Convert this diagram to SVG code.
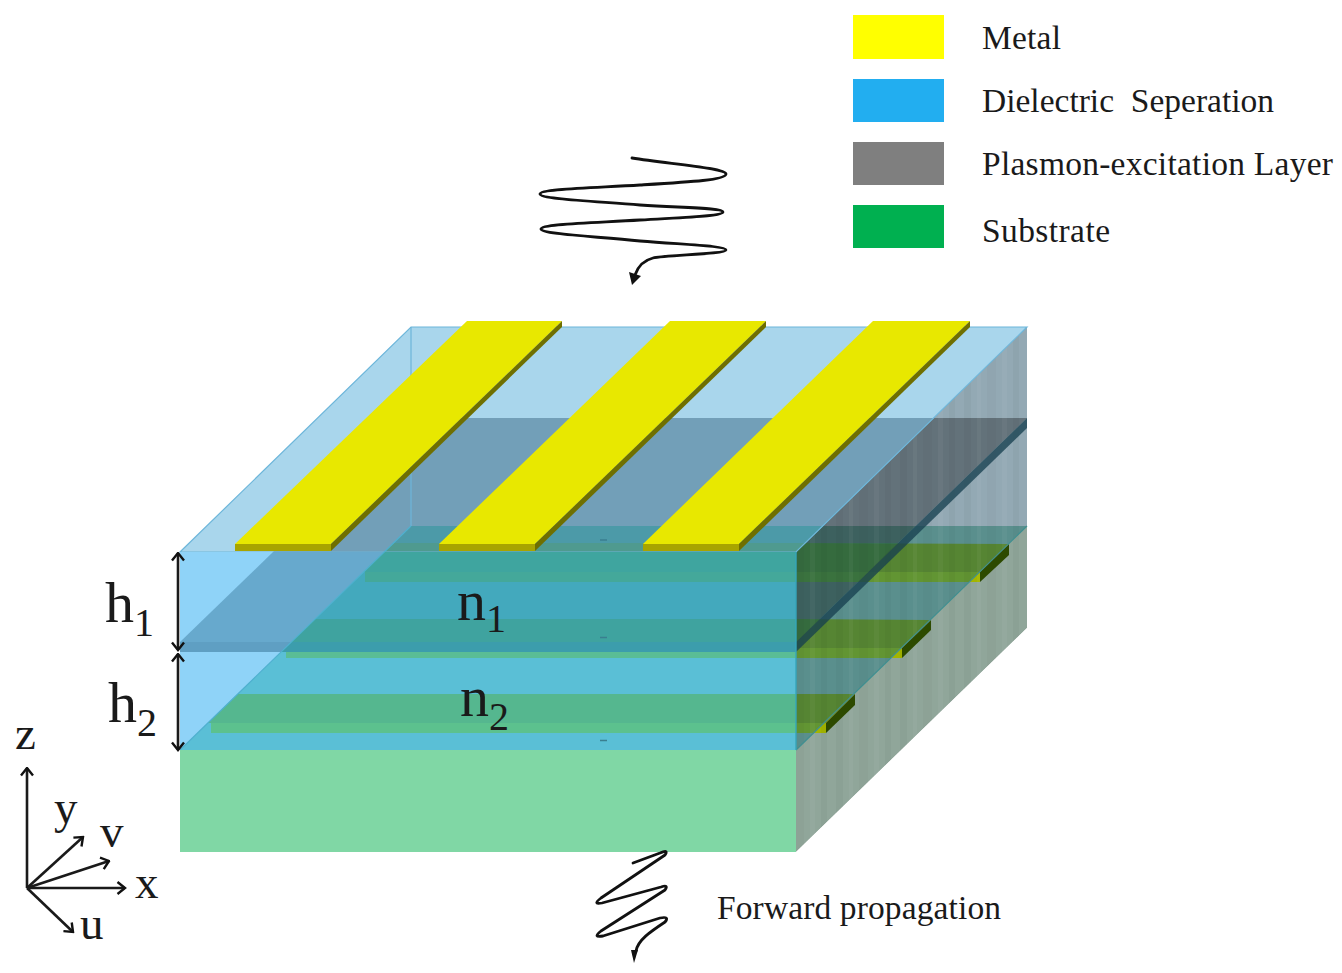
<svg xmlns="http://www.w3.org/2000/svg" width="1342" height="973" viewBox="0 0 1342 973">
<style>
.t{font-family:"Liberation Serif","Times New Roman",serif;fill:#1a1a1a}
.l{font-size:33.5px}
.s{font-size:58px}
.a{font-size:47px}
.w{fill:none;stroke:#111;stroke-width:2.8;stroke-linecap:round;stroke-linejoin:round}
.ax{fill:none;stroke:#1a1a1a;stroke-width:2.6}
.m{fill:#e8e800}.mf{fill:#a8a400}.ms{fill:#6f6f00}
.d{fill:#17404f}
</style>
<defs>
<marker id="o" viewBox="0 0 12 14" refX="10.500" refY="7" markerWidth="12" markerHeight="14" markerUnits="userSpaceOnUse" orient="auto-start-reverse"><path d="M3,1 L10.500,7 L3,13" fill="none" stroke="#111" stroke-width="2.4"/></marker>
<clipPath id="side"><polygon points="796,552 1027,327 1027,628 796,852"/></clipPath>
<clipPath id="fp"><polygon points="384,552 796,552 796,750 180,750"/></clipPath>
<pattern id="st" width="64" height="10" patternUnits="userSpaceOnUse">
<rect x="4" width="7" height="10" fill="#000" opacity=".03"/><rect x="17" width="4" height="10" fill="#fff" opacity=".04"/><rect x="27" width="9" height="10" fill="#000" opacity=".025"/><rect x="42" width="5" height="10" fill="#fff" opacity=".035"/><rect x="53" width="6" height="10" fill="#000" opacity=".03"/>
</pattern>
</defs>
<rect width="1342" height="973" fill="#fff"/>

<g id="side-face" clip-path="url(#side)">
<polygon points="796,552 1027,327 1027,628 796,852" fill="#90a69a"/>
<polygon points="796,552 1027,327 1027,526 796,750" fill="#93a9b4"/>
<polygon points="796,543 1009,544 980,572 796,572" fill="#8a9500"/>
<polygon points="796,572 980,572 980,582 796,582" fill="#a3b500"/>
<polygon points="796,619 931,620 902,648 796,648" fill="#8a9500"/>
<polygon points="796,648 902,648 902,658 796,658" fill="#a3b500"/>
<polygon points="796,694 855,694 826,723 796,723" fill="#8a9500"/>
<polygon points="796,723 826,723 826,733 796,733" fill="#a3b500"/>
<polygon points="411,526 1027,526 796,750 180,750" fill="#217565" opacity=".5"/>
<polygon points="411,418 1027,418 796,642 180,642" fill="#000" opacity=".32"/>
<polygon points="796,543 898,543 858,582 796,582" fill="#2a8f7a" opacity=".32"/>
<polygon points="796,619 820,619 796,642" fill="#2a8f7a" opacity=".32"/>
<rect x="796" y="327" width="231" height="525" fill="url(#st)"/>
<polygon points="796,642 1027,418 1027,428 796,652" class="d" opacity=".78"/>
<polygon points="980,572 1009,544 1009,555 980,582" fill="#2d4a00"/>
<polygon points="902,648 931,620 931,630 902,658" fill="#2d4a00"/>
<polygon points="826,723 855,694 855,705 826,733" fill="#2d4a00"/>
</g>
<line x1="796" y1="750" x2="1027" y2="526" stroke="#3f8f90" stroke-width="1.2"/>

<g id="top-face">
<polygon points="180,552 796,552 1027,327 411,327" fill="#a9d6ec"/>
<polygon points="273,552 796,552 933.6,418 411,418" fill="#729fb8"/>
<polygon points="411,526 823,526 796,552 384,552" fill="#4c9aa8"/>
<polygon points="393,543 805,543 796,552 384,552" fill="#4f9a8f"/>
<line x1="411" y1="327" x2="411" y2="526" stroke="#6db6da" stroke-width="1.2"/>
<polygon points="180,552 796,552 1027,327 411,327" fill="none" stroke="#6db6da" stroke-width="1.2"/>
</g>

<g id="front-face">
<rect x="180" y="552" width="616" height="198" fill="#8fd3f8"/>
<polygon points="273,552 384,552 291,642 180,642" fill="#67a9cd"/>
<polygon points="180,642 291,642 281,652 180,652" fill="#5f9fc3"/>
<g clip-path="url(#fp)">
<rect x="180" y="552" width="616" height="90" fill="#43a9bd"/>
<rect x="180" y="552" width="616" height="20" fill="#3fa59f"/>
<rect x="365" y="572" width="431" height="10" fill="#44a89a"/>
<rect x="180" y="619" width="616" height="23" fill="#3fa39f"/>
<rect x="180" y="642" width="616" height="10" fill="#3c9dac"/>
<rect x="180" y="652" width="616" height="98" fill="#5abfd6"/>
<rect x="286" y="652" width="510" height="6" fill="#5abd95"/>
<rect x="180" y="694" width="616" height="29" fill="#55b78f"/>
<rect x="211" y="723" width="585" height="10" fill="#5cc18e"/>
</g>
<line x1="180" y1="750" x2="411" y2="526" stroke="#4fb0cf" stroke-width="1.2"/>
<line x1="796" y1="552" x2="796" y2="750" stroke="#35a5bb" stroke-width="1.4"/>
<path d="M600,540h7M600,637.500h7M600,740.500h7" stroke="#3a7f90" stroke-width="1.5"/>
</g>

<rect id="substrate" x="180" y="750" width="616" height="102" fill="#80d7a5"/>

<g id="metal-1"><polygon class="m" points="235,544 331,544 562,321 467,321"/><rect class="mf" x="235" y="544" width="96" height="7"/><polygon class="ms" points="331,544 562,321 562,327 331,551"/></g>
<g id="metal-2"><polygon class="m" points="439,544 535,544 766,321 670,321"/><rect class="mf" x="439" y="544" width="96" height="7"/><polygon class="ms" points="535,544 766,321 766,327 535,551"/></g>
<g id="metal-3"><polygon class="m" points="643,544 739,544 970,321 873,321"/><rect class="mf" x="643" y="544" width="96" height="7"/><polygon class="ms" points="739,544 970,321 970,327 739,551"/></g>

<g id="legend">
<rect x="853" y="15" width="91" height="44" fill="#ffff00"/>
<rect x="853" y="79" width="91" height="43" fill="#22aef0"/>
<rect x="853" y="142" width="91" height="43" fill="#7f7f7f"/>
<rect x="853" y="205" width="91" height="43" fill="#00b050"/>
<text class="t l" x="982" y="49" textLength="79" lengthAdjust="spacing">Metal</text>
<text class="t l" x="982" y="112" textLength="292" lengthAdjust="spacing" xml:space="preserve">Dielectric  Seperation</text>
<text class="t l" x="982" y="175" textLength="351" lengthAdjust="spacing">Plasmon-excitation Layer</text>
<text class="t l" x="982" y="242" textLength="128" lengthAdjust="spacing">Substrate</text>
</g>

<g id="labels">
<text class="t s" x="105" y="622">h<tspan font-size="40" dy="14">1</tspan></text>
<text class="t s" x="108" y="722">h<tspan font-size="40" dy="14">2</tspan></text>
<text class="t s" x="457" y="620">n<tspan font-size="40" dy="12">1</tspan></text>
<text class="t s" x="460" y="716">n<tspan font-size="40" dy="14">2</tspan></text>
<text class="t l" x="717" y="919" textLength="284" lengthAdjust="spacing">Forward propagation</text>
<text class="t a" x="15" y="749">z</text>
<text class="t a" x="54" y="823">y</text>
<text class="t a" x="100" y="847">v</text>
<text class="t a" x="135" y="898">x</text>
<text class="t a" x="80" y="939">u</text>
</g>

<g id="connectors">
<line class="ax" x1="178" y1="553" x2="178" y2="650" marker-start="url(#o)" marker-end="url(#o)"/>
<line class="ax" x1="178" y1="654" x2="178" y2="750" marker-start="url(#o)" marker-end="url(#o)"/>
<line class="ax" x1="27" y1="888" x2="27" y2="768" marker-end="url(#o)"/>
<line class="ax" x1="27" y1="888" x2="83" y2="837" marker-end="url(#o)"/>
<line class="ax" x1="27" y1="888" x2="109" y2="861" marker-end="url(#o)"/>
<line class="ax" x1="27" y1="888" x2="125" y2="888" marker-end="url(#o)"/>
<line class="ax" x1="27" y1="888" x2="73" y2="932" marker-end="url(#o)"/>
<path class="w" d="M632,158 C670,164 726,168 726,174 C726,180 690,182 640,185 C590,188 540,189 540,194 C540,199 590,201 640,205 C690,208 723,208 723,212 C723,216 690,217 640,220 C590,223 541,224 541,229 C541,234 590,236 640,241 C690,245 726,246 726,250 C726,254 665,255 653,258 C645,260 638,266 635,275"/>
<polygon points="632,285 629,272 641,276" fill="#111"/>
<path class="w" d="M633,863 L660,853 Q669,849 665,855 L601,898 Q592,905 602,903 L661,887 Q669,884 665,890 L601,931 Q592,938 603,936 L660,918 Q670,916 665,922 C650,932 638,940 636,951"/>
<polygon points="634,963 631,950 638,950" fill="#111"/>
</g>
</svg>
